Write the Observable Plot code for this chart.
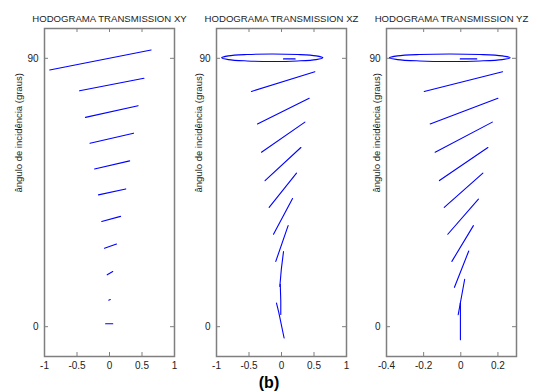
<!DOCTYPE html>
<html><head><meta charset="utf-8">
<script src="https://cdn.jsdelivr.net/npm/d3@7"></script>
<script src="https://cdn.jsdelivr.net/npm/@observablehq/plot@0.6"></script>
<style>
body{margin:0;background:#fff;font-family:"Liberation Sans",Arial,sans-serif;}
#wrap{position:relative;width:538px;height:392px;overflow:hidden;background:#fff;}
.panel{position:absolute;top:0;}
#cap{position:absolute;left:0;width:538px;top:375px;text-align:center;font-weight:bold;font-size:16px;line-height:16px;color:#000;}
</style></head><body>
<div id="wrap"><div id="cap">(b)</div></div>
<script>
const titles = ["HODOGRAMA TRANSMISSION XY", "HODOGRAMA TRANSMISSION XZ", "HODOGRAMA TRANSMISSION YZ"];
const yLabel = "ângulo de incidência (graus)";
const yTicks = [0, 90];
const yDomain = [-10, 100];
const xTicksWide = [-1, -0.5, 0, 0.5, 1];
const xDomainWide = [-1, 1];
const xTicksYZ = [-0.4, -0.2, 0, 0.2];
const xDomainYZ = [-0.4, 0.3];

// [curve, x, y]
const xyCurves = [
  [0, -0.92, 86.1], [0, 0.64, 92.8],
  [1, -0.46, 79.1], [1, 0.53, 83.3],
  [2, -0.37, 70.2], [2, 0.44, 74.1],
  [3, -0.30, 61.5], [3, 0.37, 64.9],
  [4, -0.23, 52.9], [4, 0.31, 55.6],
  [5, -0.17, 44.2], [5, 0.25, 46.2],
  [6, -0.12, 35.3], [6, 0.17, 37.0],
  [7, -0.077, 26.3], [7, 0.108, 27.7],
  [8, -0.035, 17.4], [8, 0.05, 18.5],
  [9, -0.012, 8.9], [9, 0.012, 9.1],
  [10, -0.06, 1.0], [10, 0.05, 1.0]
];

const xzLoop = [
  [0.637, 90.2], [0.533, 90.83], [0.248, 91.28], [-0.142, 91.45], [-0.532, 91.28], [-0.817, 90.83],
  [-0.921, 90.2], [-0.817, 89.57], [-0.532, 89.12], [-0.142, 88.95], [0.248, 89.12], [0.533, 89.57]
];
const xzCurves = [
  [0, 0.031, 89.8], [0, 0.21, 89.8],
  [1, -0.463, 78.9], [1, 0.513, 85.5],
  [2, -0.37, 68.0], [2, 0.426, 76.6],
  [3, -0.308, 58.5], [3, 0.36, 68.6],
  [4, -0.253, 49.0], [4, 0.298, 60.1],
  [5, -0.19, 40.0], [5, 0.231, 51.5],
  [6, -0.123, 31.0], [6, 0.17, 43.0],
  [7, -0.088, 21.9], [7, 0.102, 33.9],
  [8, 0.031, 25.2], [8, -0.003, 19.2], [8, -0.026, 13.5],
  [9, -0.019, 14.2], [9, -0.011, 8.5], [9, -0.011, 4.1],
  [10, -0.077, 7.9], [10, -0.042, 4.8], [10, 0.040, -3.8]
];

const yzLoop = [
  [0.266, 90.2], [0.2225, 90.83], [0.1035, 91.28], [-0.059, 91.45], [-0.2215, 91.28], [-0.3405, 90.83],
  [-0.384, 90.2], [-0.3405, 89.57], [-0.2215, 89.12], [-0.059, 88.95], [0.1035, 89.12], [0.2225, 89.57]
];
const yzCurves = [
  [0, -0.003, 89.8], [0, 0.086, 89.8],
  [1, -0.197, 78.9], [1, 0.225, 85.5],
  [2, -0.165, 68.0], [2, 0.20, 76.6],
  [3, -0.138, 58.5], [3, 0.17, 68.6],
  [4, -0.115, 49.0], [4, 0.146, 60.1],
  [5, -0.089, 40.0], [5, 0.119, 51.5],
  [6, -0.07, 31.0], [6, 0.095, 42.8],
  [7, -0.048, 21.9], [7, 0.068, 33.9],
  [8, -0.034, 13.2], [8, 0.043, 25.4],
  [9, -0.014, 4.0], [9, 0.021, 15.9],
  [10, -0.002, 7.9], [10, -0.002, -4.4]
];

const H = 392, MT = 28, MB = 36;
const FH = H - MT - MB;
const axisColor = "#7f7f7f";
const lineColor = "#0000ff";

function panel(left, width, mL, mR, title, xDomain, xTicks, curves, loop) {
  const FW = width - mL - mR;
  const marks = [
    Plot.frame({stroke: axisColor, strokeWidth: 1.5}),
    Plot.tickX(xTicks, {x: d => d, insetTop: FH - 4, stroke: axisColor}),
    Plot.tickX(xTicks, {x: d => d, insetBottom: FH - 4, stroke: axisColor}),
    Plot.tickY(yTicks, {y: d => d, insetRight: FW - 4, stroke: axisColor}),
    Plot.tickY(yTicks, {y: d => d, insetLeft: FW - 4, stroke: axisColor}),
    Plot.axisX(xTicks, {tickSize: 0, tickPadding: 5, tickFormat: d => String(d), label: null, fill: "#222"}),
    Plot.axisY(yTicks, {tickSize: 0, tickPadding: 6, tickFormat: d => String(d), label: null, fill: "#222"}),
    Plot.line(curves, {x: d => d[1], y: d => d[2], z: d => d[0], stroke: lineColor, strokeWidth: 1.1}),
    Plot.text([title], {frameAnchor: "top", dy: -13, text: d => d, fontSize: 9.6, fill: "#222"}),
    Plot.text([yLabel], {frameAnchor: "left", dx: -(mL - 18), rotate: -90, text: d => d, fontSize: 9.5, fill: "#222"})
  ];
  if (loop) marks.push(Plot.line(loop, {x: d => d[0], y: d => d[1], curve: "catmull-rom-closed", stroke: lineColor, strokeWidth: 1.1}));
  const svg = Plot.plot({
    width, height: H,
    marginLeft: mL, marginRight: mR, marginTop: MT, marginBottom: MB,
    x: {domain: xDomain},
    y: {domain: yDomain},
    style: {fontFamily: "'Liberation Sans', Arial, sans-serif", fontSize: "10px", background: "transparent", overflow: "visible"},
    marks
  });
  const div = document.createElement("div");
  div.className = "panel";
  div.style.left = left + "px";
  div.appendChild(svg);
  document.getElementById("wrap").appendChild(div);
}

panel(0, 180, 44, 6, titles[0], xDomainWide, xTicksWide, xyCurves, null);
panel(180, 178, 36, 12, titles[1], xDomainWide, xTicksWide, xzCurves, xzLoop);
panel(358, 180, 28, 22, titles[2], xDomainYZ, xTicksYZ, yzCurves, yzLoop);
</script>
</body></html>
